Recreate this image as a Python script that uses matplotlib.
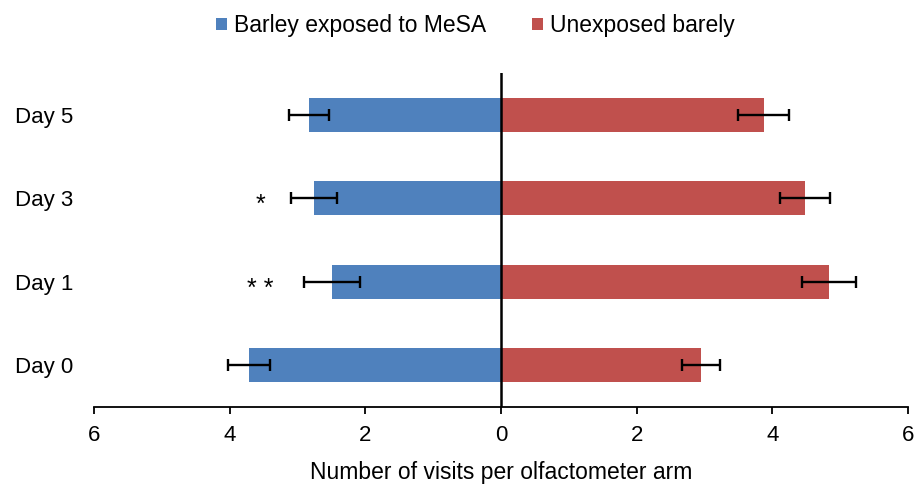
import matplotlib
matplotlib.use("Agg")
import matplotlib.pyplot as plt
from matplotlib.patches import Patch
import numpy as np

categories = ["Day 0", "Day 1", "Day 3", "Day 5"]
exposed = [3.72, 2.49, 2.76, 2.83]
exposed_err = [0.31, 0.41, 0.34, 0.30]
unexposed = [2.95, 4.83, 4.48, 3.87]
unexposed_err = [0.28, 0.40, 0.37, 0.37]
signif = ["", "* *", "*", ""]
xticks = [-6, -4, -2, 0, 2, 4, 6]
xticklabels = ["6", "4", "2", "0", "2", "4", "6"]

blue = "#4F81BD"
red = "#C0504D"

plt.rcParams['font.family'] = ['Liberation Sans', 'DejaVu Sans']

fig = plt.figure(figsize=(9.14, 4.84), dpi=100)
ax = fig.add_axes([94/914, 1-407/484, (908-94)/914, (407-73)/484])

y = np.arange(len(categories))
neg = [-v for v in exposed]
ax.barh(y, neg, height=0.41, color=blue, zorder=2)
ax.barh(y, unexposed, height=0.41, color=red, zorder=2)
ax.errorbar(neg, y, xerr=exposed_err, fmt='none', ecolor='black',
            elinewidth=1.7, capsize=4, capthick=1.7, zorder=3)
ax.errorbar(unexposed, y, xerr=unexposed_err, fmt='none', ecolor='black',
            elinewidth=1.7, capsize=4, capthick=1.7, zorder=3)

for i, s in enumerate(signif):
    if s:
        ax.text(-3.55, y[i] - 0.085, s, ha='center', va='center', fontsize=18, color='black')

ax.axvline(0, color='black', lw=1.8, zorder=4)
ax.set_xlim(-6, 6)
ax.set_ylim(-0.5, 3.5)
ax.set_xticks(xticks)
ax.set_xticklabels(xticklabels, fontsize=16)
ax.set_yticks(y)
ax.set_yticklabels(categories, fontsize=16)
ax.tick_params(axis='y', length=0, pad=15)
ax.tick_params(axis='x', direction='out', length=5, width=1.3, pad=8)
for s in ['left', 'top', 'right']:
    ax.spines[s].set_visible(False)
ax.spines['bottom'].set_linewidth(1.3)
ax.set_xlabel("Number of visits per olfactometer arm", fontsize=16.5, labelpad=11)

handles = [Patch(facecolor=blue, label="Barley exposed to MeSA"),
           Patch(facecolor=red, label="Unexposed barely")]
fig.legend(handles=handles, loc='center', bbox_to_anchor=(0.52, 0.947), ncol=2,
           frameon=False, fontsize=16.5, handlelength=0.48, handleheight=0.48,
           handletextpad=0.3, columnspacing=2.0)

fig.savefig("out.png", dpi=100)
